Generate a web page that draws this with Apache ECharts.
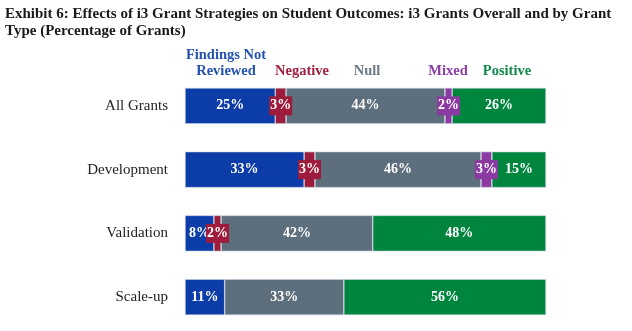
<!DOCTYPE html>
<html><head><meta charset="utf-8">
<script src="https://cdn.jsdelivr.net/npm/echarts@6/dist/echarts.min.js"></script>
<style>html,body{margin:0;padding:0;background:#fff}#c{width:632px;height:331px}</style>
</head><body><div id="c"></div>
<script>
const categories = ['All Grants', 'Development', 'Validation', 'Scale-up'];
const seriesNames = ['Findings Not Reviewed', 'Negative', 'Null', 'Mixed', 'Positive'];
const notReviewed = [25, 33, 8, 11];
const negative = [3, 3, 2, 0];
const nullVals = [44, 46, 42, 33];
const mixed = [2, 3, 0, 0];
const positive = [26, 15, 48, 56];
const barColors = ['#0b3ca8', '#9d1b3b', '#5d6e7c', '#8a3aa0', '#00853f'];
const legendColors = ['#2452b0', '#a11f3e', '#6b7986', '#8c3ea6', '#12894a'];

const values = [notReviewed, negative, nullVals, mixed, positive];
const serif = '"Liberation Serif", "DejaVu Serif", serif';

const chart = echarts.init(document.getElementById('c'));
const series = seriesNames.map((name, i) => ({
  name: name,
  type: 'bar',
  stack: 'total',
  barWidth: 36,
  data: values[i].map(v => v === 0 ? null : v),
  itemStyle: { color: barColors[i], borderColor: '#c9d3e0', borderWidth: 0.6 },
  label: {
    show: true,
    position: 'inside',
    formatter: p => p.value + '%',
    color: '#fff',
    fontFamily: serif,
    fontWeight: 'bold',
    fontSize: 14,
    backgroundColor: barColors[i],
    padding: [3, 1, 2, 1]
  },
  emphasis: { disabled: true }
}));

chart.setOption({
  animation: false,
  textStyle: { fontFamily: serif },
  grid: { left: 185, right: 86, top: 74, bottom: 2 },
  xAxis: { type: 'value', min: 0, max: 100, show: false },
  yAxis: {
    type: 'category',
    data: categories,
    inverse: true,
    axisLine: { show: false },
    axisTick: { show: false },
    axisLabel: { color: '#222', fontFamily: serif, fontSize: 15, margin: 17 }
  },
  graphic: [
    { type: 'text', left: 5, top: 7, style: { text: 'Exhibit 6: Effects of i3 Grant Strategies on Student Outcomes: i3 Grants Overall and by Grant', font: 'bold 15px ' + serif, fill: '#1a1a1a' } },
    { type: 'text', left: 5, top: 24, style: { text: 'Type (Percentage of Grants)', font: 'bold 15px ' + serif, fill: '#1a1a1a' } },
    { type: 'text', x: 226, y: 48, style: { text: 'Findings Not', font: 'bold 14.5px ' + serif, fill: legendColors[0], align: 'center' } },
    { type: 'text', x: 226, y: 64, style: { text: 'Reviewed', font: 'bold 14.5px ' + serif, fill: legendColors[0], align: 'center' } },
    { type: 'text', x: 302, y: 64, style: { text: 'Negative', font: 'bold 14.5px ' + serif, fill: legendColors[1], align: 'center' } },
    { type: 'text', x: 367, y: 64, style: { text: 'Null', font: 'bold 14.5px ' + serif, fill: legendColors[2], align: 'center' } },
    { type: 'text', x: 448, y: 64, style: { text: 'Mixed', font: 'bold 14.5px ' + serif, fill: legendColors[3], align: 'center' } },
    { type: 'text', x: 507, y: 64, style: { text: 'Positive', font: 'bold 14.5px ' + serif, fill: legendColors[4], align: 'center' } }
  ],
  series: series
});
</script></body></html>
